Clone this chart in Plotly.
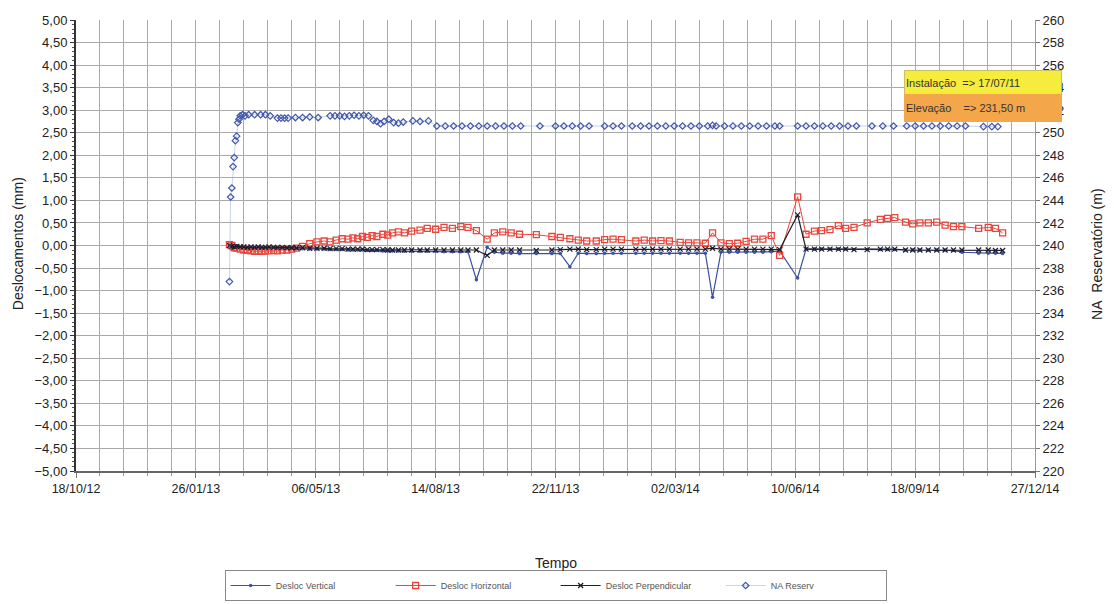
import plotly.graph_objects as go

# ---------------- data ----------------
desloc_dates = [
    "2013-02-23", "2013-02-25", "2013-02-27", "2013-03-01", "2013-03-04", "2013-03-07",
    "2013-03-10", "2013-03-13", "2013-03-16", "2013-03-19", "2013-03-22", "2013-03-25",
    "2013-03-28", "2013-04-01", "2013-04-04", "2013-04-08", "2013-04-12", "2013-04-16",
    "2013-04-20", "2013-04-25", "2013-05-01", "2013-05-07", "2013-05-13", "2013-05-18",
    "2013-05-23", "2013-05-28", "2013-06-02", "2013-06-06", "2013-06-10", "2013-06-14",
    "2013-06-18", "2013-06-22", "2013-06-26", "2013-07-01", "2013-07-05", "2013-07-09",
    "2013-07-14", "2013-07-19", "2013-07-25", "2013-08-01", "2013-08-07", "2013-08-14",
    "2013-08-21", "2013-08-28", "2013-09-04", "2013-09-10", "2013-09-17", "2013-09-26",
    "2013-10-02", "2013-10-09", "2013-10-16", "2013-10-23", "2013-11-06", "2013-11-19",
    "2013-11-26", "2013-12-04", "2013-12-11", "2013-12-18", "2013-12-26", "2014-01-02",
    "2014-01-09", "2014-01-16", "2014-01-28", "2014-02-04", "2014-02-11", "2014-02-18",
    "2014-02-25", "2014-03-06", "2014-03-13", "2014-03-20", "2014-03-27", "2014-04-02",
    "2014-04-09", "2014-04-16", "2014-04-23", "2014-04-30", "2014-05-07", "2014-05-14",
    "2014-05-21", "2014-05-28", "2014-06-12", "2014-06-19", "2014-06-26", "2014-07-02",
    "2014-07-09", "2014-07-16", "2014-07-22", "2014-07-29", "2014-08-09", "2014-08-20",
    "2014-08-26", "2014-09-01", "2014-09-10", "2014-09-16", "2014-09-22", "2014-09-29",
    "2014-10-06", "2014-10-13", "2014-10-20", "2014-10-27", "2014-11-10", "2014-11-18",
    "2014-11-24", "2014-11-30",
]

desloc_vertical = [
    -0.05, -0.08, -0.05, -0.05, -0.06, -0.05, -0.06, -0.05, -0.06, -0.05, -0.06, -0.05,
    -0.06, -0.05, -0.06, -0.06, -0.06, -0.07, -0.07, -0.07, -0.08, -0.08, -0.08, -0.09,
    -0.09, -0.09, -0.10, -0.10, -0.10, -0.10, -0.11, -0.11, -0.11, -0.12, -0.12, -0.12,
    -0.12, -0.13, -0.13, -0.13, -0.13, -0.13, -0.14, -0.14, -0.14, -0.14, -0.76, -0.04,
    -0.15, -0.17, -0.17, -0.18, -0.18, -0.18, -0.18, -0.47, -0.17, -0.18, -0.18, -0.17,
    -0.17, -0.17, -0.17, -0.17, -0.17, -0.17, -0.17, -0.17, -0.17, -0.17, -0.17, -1.15,
    -0.15, -0.15, -0.15, -0.15, -0.15, -0.15, -0.14, -0.12, -0.72, -0.08, -0.08, -0.08,
    -0.08, -0.08, -0.08, -0.09, -0.09, -0.09, -0.09, -0.09, -0.10, -0.10, -0.10, -0.10,
    -0.10, -0.10, -0.11, -0.15, -0.17, -0.17, -0.17, -0.18,
]

desloc_horizontal = [
    0.02, 0.00, -0.05, -0.06, -0.08, -0.10, -0.10, -0.12, -0.13, -0.12, -0.13, -0.12,
    -0.12, -0.11, -0.12, -0.10, -0.10, -0.08, -0.06, -0.02, 0.04, 0.08, 0.10, 0.08,
    0.12, 0.15, 0.14, 0.17, 0.15, 0.20, 0.18, 0.22, 0.20, 0.25, 0.23, 0.28,
    0.30, 0.28, 0.32, 0.34, 0.38, 0.36, 0.40, 0.38, 0.42, 0.40, 0.33, 0.14,
    0.28, 0.30, 0.28, 0.25, 0.24, 0.20, 0.18, 0.15, 0.12, 0.10, 0.10, 0.13,
    0.14, 0.13, 0.10, 0.12, 0.10, 0.11, 0.10, 0.07, 0.06, 0.06, 0.05, 0.28,
    0.06, 0.04, 0.05, 0.09, 0.14, 0.14, 0.22, -0.22, 1.08, 0.25, 0.32, 0.33,
    0.35, 0.44, 0.38, 0.40, 0.50, 0.58, 0.60, 0.62, 0.52, 0.48, 0.50, 0.50,
    0.52, 0.45, 0.42, 0.42, 0.38, 0.40, 0.38, 0.28,
]

desloc_perpendicular = [
    0.00, -0.02, -0.03, -0.02, -0.03, -0.03, -0.04, -0.03, -0.04, -0.03, -0.04, -0.04,
    -0.03, -0.04, -0.04, -0.04, -0.05, -0.05, -0.05, -0.05, -0.06, -0.06, -0.06, -0.07,
    -0.07, -0.07, -0.08, -0.08, -0.08, -0.08, -0.09, -0.09, -0.09, -0.09, -0.10, -0.10,
    -0.10, -0.10, -0.10, -0.10, -0.10, -0.10, -0.10, -0.10, -0.10, -0.10, -0.10, -0.22,
    -0.10, -0.10, -0.10, -0.10, -0.11, -0.10, -0.09, -0.08, -0.08, -0.09, -0.09, -0.08,
    -0.08, -0.08, -0.08, -0.08, -0.08, -0.08, -0.08, -0.08, -0.08, -0.08, -0.08, -0.06,
    -0.08, -0.08, -0.08, -0.08, -0.08, -0.08, -0.08, -0.09, 0.68, -0.08, -0.08, -0.08,
    -0.08, -0.08, -0.08, -0.09, -0.09, -0.08, -0.08, -0.08, -0.10, -0.10, -0.10, -0.10,
    -0.10, -0.10, -0.10, -0.10, -0.10, -0.10, -0.11, -0.11,
]

na_dates = [
    "2013-02-23", "2013-02-24", "2013-02-25", "2013-02-26", "2013-02-27", "2013-02-28",
    "2013-03-01", "2013-03-02", "2013-03-03", "2013-03-04", "2013-03-06", "2013-03-08",
    "2013-03-11", "2013-03-16", "2013-03-21", "2013-03-25", "2013-03-29", "2013-04-04",
    "2013-04-07", "2013-04-10", "2013-04-13", "2013-04-19", "2013-04-25", "2013-05-01",
    "2013-05-08", "2013-05-18", "2013-05-22", "2013-05-26", "2013-05-30", "2013-06-03",
    "2013-06-07", "2013-06-11", "2013-06-15", "2013-06-19", "2013-06-23", "2013-06-26",
    "2013-06-29", "2013-07-02", "2013-07-06", "2013-07-10", "2013-07-14", "2013-07-18",
    "2013-07-26", "2013-08-01", "2013-08-08", "2013-08-15", "2013-08-22", "2013-08-29",
    "2013-09-05", "2013-09-12", "2013-09-19", "2013-09-26", "2013-10-03", "2013-10-10",
    "2013-10-17", "2013-10-24", "2013-11-09", "2013-11-22", "2013-11-29", "2013-12-06",
    "2013-12-13", "2013-12-20", "2014-01-02", "2014-01-09", "2014-01-16", "2014-01-25",
    "2014-02-01", "2014-02-08", "2014-02-15", "2014-02-22", "2014-03-01", "2014-03-08",
    "2014-03-15", "2014-03-22", "2014-03-29", "2014-04-02", "2014-04-05", "2014-04-12",
    "2014-04-19", "2014-04-26", "2014-05-03", "2014-05-10", "2014-05-17", "2014-05-24",
    "2014-05-28", "2014-06-12", "2014-06-19", "2014-06-26", "2014-07-03", "2014-07-10",
    "2014-07-17", "2014-07-24", "2014-07-31", "2014-08-13", "2014-08-22", "2014-08-31",
    "2014-09-11", "2014-09-18", "2014-09-25", "2014-10-02", "2014-10-09", "2014-10-16",
    "2014-10-23", "2014-10-30", "2014-11-14", "2014-11-21", "2014-11-26",
]

na_reserv = [
    236.8, 244.3, 245.1, 247.0, 247.8, 249.3, 249.7, 250.9, 251.2, 251.5, 251.6, 251.5,
    251.6, 251.6, 251.6, 251.6, 251.5, 251.3, 251.3, 251.3, 251.3, 251.35, 251.35, 251.4,
    251.35, 251.5, 251.5, 251.5, 251.45, 251.5, 251.55, 251.5, 251.55, 251.5, 251.1, 251.0,
    250.8, 251.0, 251.2, 250.9, 250.85, 250.95, 251.05, 251.0, 251.05, 250.6, 250.6, 250.6,
    250.6, 250.6, 250.6, 250.6, 250.6, 250.6, 250.6, 250.6, 250.6, 250.6, 250.6, 250.6,
    250.6, 250.6, 250.6, 250.6, 250.6, 250.6, 250.6, 250.6, 250.6, 250.6, 250.6, 250.6,
    250.6, 250.6, 250.6, 250.65, 250.6, 250.6, 250.6, 250.6, 250.6, 250.6, 250.6, 250.6,
    250.6, 250.6, 250.6, 250.6, 250.6, 250.6, 250.6, 250.6, 250.6, 250.6, 250.6, 250.6,
    250.6, 250.6, 250.6, 250.6, 250.6, 250.6, 250.6, 250.6, 250.55, 250.55, 250.55,
]

x_range = ["2012-10-18", "2014-12-27"]
y_left_range = [-5, 5]
y_right_range = [220, 260]
info_install = "Instalação\u00a0\u00a0=> 17/07/11"
info_elev = "Elevação\u00a0\u00a0\u00a0\u00a0=> 231,50 m"

DAY_MS = 86400000
FONT = "Liberation Sans, Arial, sans-serif"
GRID = "#aaaaaa"

fig = go.Figure()

fig.add_trace(go.Scatter(
    x=desloc_dates, y=desloc_vertical, name="Desloc Vertical", mode="lines+markers",
    line=dict(color="#3a50a3", width=1.2),
    marker=dict(symbol="circle", size=3.5, color="#3a50a3"),
))
fig.add_trace(go.Scatter(
    x=desloc_dates, y=desloc_horizontal, name="Desloc Horizontal", mode="lines+markers",
    line=dict(color="#e8463c", width=1),
    marker=dict(symbol="square-open", size=6, color="#e8463c", line=dict(width=1.3)),
))
fig.add_trace(go.Scatter(
    x=desloc_dates, y=desloc_perpendicular, name="Desloc Perpendicular", mode="lines+markers",
    line=dict(color="#1c1c2c", width=1.2),
    marker=dict(symbol="x-thin", size=5, color="#1c1c2c", line=dict(width=1.2, color="#1c1c2c")),
))
fig.add_trace(go.Scatter(
    x=na_dates, y=na_reserv, name="NA Reserv", mode="lines+markers", yaxis="y2",
    line=dict(color="rgba(150,165,220,0.5)", width=1),
    marker=dict(symbol="diamond-open", size=5, color="#4257ab", line=dict(width=1.2)),
))

fig.update_layout(
    width=1114, height=604,
    margin=dict(l=76, r=79, t=20, b=133, autoexpand=False),
    paper_bgcolor="white", plot_bgcolor="white",
    separators=",.",
    font=dict(family=FONT, size=13, color="#222"),
    showlegend=True,
    legend=dict(
        orientation="h", x=0.155, y=-0.2195, xanchor="left", yanchor="top",
        bordercolor="#888", borderwidth=1, bgcolor="white",
        font=dict(size=9, color="#555"),
        entrywidth=110, entrywidthmode="pixels", itemwidth=40,
    ),
    xaxis=dict(
        type="date", range=x_range, tick0=x_range[0], dtick=100 * DAY_MS,
        tickformat="%d/%m/%y", showgrid=True, gridcolor=GRID, gridwidth=1,
        ticks="outside", ticklen=5, tickcolor="#777",
        showline=True, linecolor="#666", linewidth=2, zeroline=False,
        tickfont=dict(size=12.5),
        minor=dict(tick0=x_range[0], dtick=20 * DAY_MS, showgrid=True, gridcolor=GRID,
                   gridwidth=1, ticks="outside", ticklen=3, tickcolor="#999"),
    ),
    yaxis=dict(
        range=y_left_range, dtick=0.5, tickformat=".2f",
        showgrid=True, gridcolor=GRID, gridwidth=1, zeroline=False,
        showline=True, linecolor="#333", linewidth=2,
        ticks="outside", ticklen=4, tickcolor="#333",
        tickfont=dict(size=13),
        minor=dict(dtick=0.1, ticks="outside", ticklen=2, tickcolor="#555", showgrid=False),
    ),
    yaxis2=dict(
        range=y_right_range, dtick=2, overlaying="y", side="right",
        showgrid=False, zeroline=False, showline=True, linecolor="#999", linewidth=1,
        ticks="outside", ticklen=4, tickcolor="#777", tickfont=dict(size=13),
    ),
    annotations=[
        dict(text="Tempo", xref="paper", yref="paper", x=0.5, y=-0.204,
             xanchor="center", yanchor="middle", showarrow=False,
             font=dict(size=14, color="#222")),
        dict(text="Deslocamentos (mm)", xref="paper", yref="paper", x=-0.0605, y=0.505,
             xanchor="center", yanchor="middle", textangle=-90, showarrow=False,
             font=dict(size=14, color="#222")),
        dict(text="NA\u00a0\u00a0Reservatório (m)", xref="paper", yref="paper", x=1.064, y=0.48,
             xanchor="center", yanchor="middle", textangle=-90, showarrow=False,
             font=dict(size=14, color="#222")),
        dict(text=info_install, xref="paper", yref="paper", x=0.8634, y=0.889,
             xanchor="left", yanchor="top", showarrow=False, align="left",
             width=154, height=22, bgcolor="#f5ec3c", bordercolor="#c8c060", borderwidth=1,
             font=dict(size=11, color="#333")),
        dict(text=info_elev, xref="paper", yref="paper", x=0.8634, y=0.836,
             xanchor="left", yanchor="top", showarrow=False, align="left",
             width=154, height=24, bgcolor="#f4a64b", bordercolor="#f4a64b", borderwidth=1,
             font=dict(size=11, color="#333")),
    ],
)

fig.write_html("out.html", config={"displayModeBar": False},
               post_script="document.body.style.margin='0px';")
